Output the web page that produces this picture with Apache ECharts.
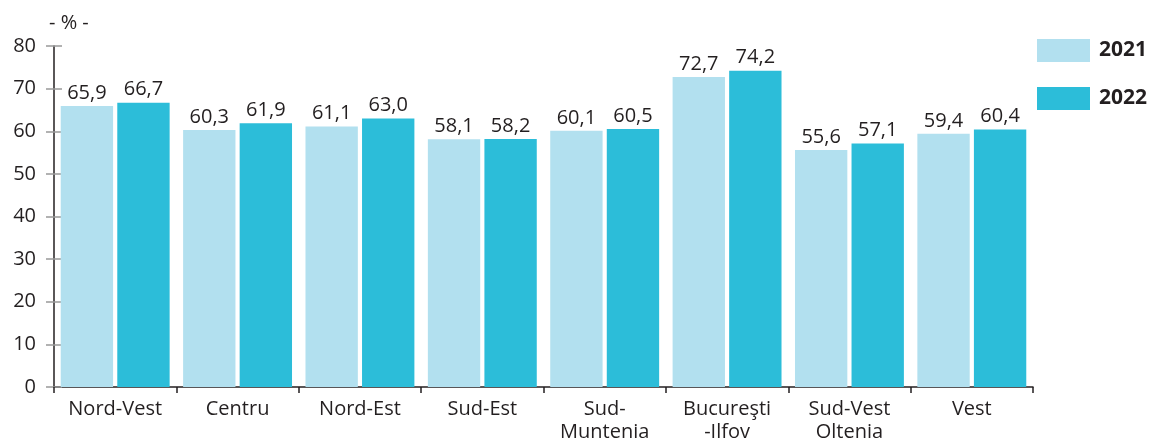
<!DOCTYPE html>
<html>
<head>
<meta charset="utf-8">
<script src="https://cdn.jsdelivr.net/npm/echarts@6/dist/echarts.min.js"></script>
<style>
  html, body { margin: 0; padding: 0; background: #fff; }
  #chart { width: 1156px; height: 444px; }
</style>
</head>
<body>
<div id="chart"></div>
<script>
(function() {
  // regiuni de dezvoltare
  var categories = ["Nord-Vest", "Centru", "Nord-Est", "Sud-Est", "Sud-\nMuntenia", "Bucureşti\n-Ilfov", "Sud-Vest\nOltenia", "Vest"];
  var values2021 = [65.9, 60.3, 61.1, 58.1, 60.1, 72.7, 55.6, 59.4];
  var values2022 = [66.7, 61.9, 63.0, 58.2, 60.5, 74.2, 57.1, 60.4];
  var yTicks = [0, 10, 20, 30, 40, 50, 60, 70, 80];

  var font = "Open Sans";
  var textColor = "#231f20";

  var myChart = echarts.init(document.getElementById("chart"));

  function fmt(p) {
    return p.value.toFixed(1).replace(".", ",");
  }

  var option = {
    animation: false,
    textStyle: { fontFamily: font },
    grid: { left: 54, right: 123, top: 46, bottom: 56, containLabel: false },
    legend: {
      orient: "vertical",
      left: 1032,
      top: 34,
      itemWidth: 53,
      itemHeight: 23,
      itemGap: 25,
      icon: "rect",
      textStyle: { fontFamily: font, fontSize: 21, fontWeight: "bold", color: textColor, padding: [0, 0, 0, 4] },
      data: ["2021", "2022"]
    },
    title: {
      text: "- % -",
      left: 44,
      top: 8,
      textStyle: { fontFamily: font, fontSize: 20, fontWeight: "normal", color: textColor }
    },
    xAxis: {
      type: "category",
      data: categories,
      axisLine: { lineStyle: { color: textColor, width: 1.5 } },
      axisTick: { show: true, length: 6, lineStyle: { color: textColor, width: 1.5 } },
      axisLabel: { fontFamily: font, fontSize: 20, color: textColor, margin: 11, lineHeight: 23, interval: 0 }
    },
    yAxis: [
      {
        type: "value",
        min: yTicks[0],
        max: yTicks[yTicks.length - 1],
        interval: 10,
        axisLine: { show: true, lineStyle: { color: textColor, width: 1.5 } },
        axisTick: { show: true, length: 8, lineStyle: { color: "#999", width: 1.5 } },
        splitLine: { show: false },
        axisLabel: { fontFamily: font, fontSize: 20, color: textColor, margin: 18 }
      },
      {
        type: "value",
        position: "left",
        min: yTicks[0],
        max: yTicks[yTicks.length - 1],
        interval: 10,
        axisLine: { show: false },
        axisTick: { show: true, inside: true, length: 8, lineStyle: { color: "#999", width: 1.5 } },
        splitLine: { show: false },
        axisLabel: { show: false }
      }
    ],
    series: [
      {
        name: "2021",
        type: "bar",
        data: values2021,
        barGap: "8%",
        barCategoryGap: "11%",
        itemStyle: { color: "#b2e0ef" },
        label: { show: true, position: "top", distance: 3, formatter: fmt, fontFamily: font, fontSize: 20, color: textColor }
      },
      {
        name: "2022",
        type: "bar",
        data: values2022,
        itemStyle: { color: "#2cbdd9" },
        label: { show: true, position: "top", distance: 3, formatter: fmt, fontFamily: font, fontSize: 20, color: textColor }
      }
    ]
  };

  myChart.setOption(option);
  window.addEventListener("resize", function() {
    myChart.resize();
  });
})();
</script>
</body>
</html>
